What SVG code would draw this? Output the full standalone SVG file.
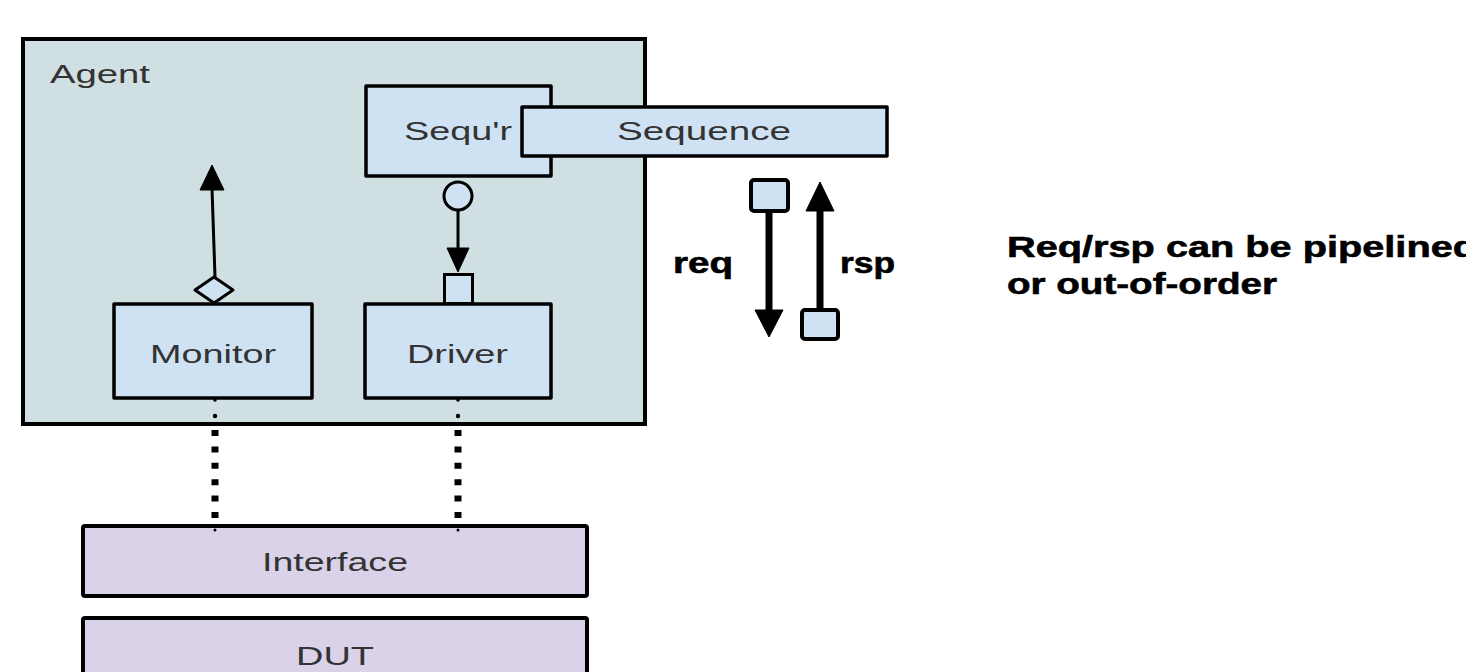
<svg xmlns="http://www.w3.org/2000/svg" width="1466" height="672" viewBox="0 0 1466 672">
<style>
.lbl{font-family:"Liberation Sans",Arial,sans-serif;font-size:25px;fill:#333333}
.bold{font-family:"Liberation Sans",Arial,sans-serif;font-size:30px;font-weight:bold;fill:#000000;stroke:#000;stroke-width:0.6}
.box{fill:#cfe2f3;stroke:#000;stroke-width:3.5;stroke-linejoin:round}
.ibox{fill:#d9d2e9;stroke:#000;stroke-width:4;stroke-linejoin:round}
.ln{stroke:#000;stroke-width:3;fill:none}
.thick{stroke:#000;stroke-width:7;fill:none}
.head{fill:#000;stroke:#000;stroke-width:1;stroke-linejoin:round}
.dash{stroke:#000;stroke-width:7;stroke-dasharray:6 10.4;fill:none}
.dot{fill:#000}
</style>
<rect width="1466" height="672" fill="#ffffff"/>
<g id="agent">
  <rect x="23" y="39" width="622" height="385" fill="#d0dfe2" stroke="#000" stroke-width="4"/>
  <text class="lbl" x="50" y="83" textLength="100" lengthAdjust="spacingAndGlyphs">Agent</text>
</g>
<g id="sequencer">
  <rect class="box" x="366" y="86" width="185" height="90"/>
  <text class="lbl" x="404" y="140" textLength="108" lengthAdjust="spacingAndGlyphs">Sequ'r</text>
</g>
<g id="sequence">
  <rect class="box" x="522" y="107" width="365" height="49" stroke-width="4"/>
  <text class="lbl" x="617" y="140" textLength="174" lengthAdjust="spacingAndGlyphs">Sequence</text>
</g>
<g id="monitor">
  <rect class="box" x="114" y="304" width="198" height="94"/>
  <text class="lbl" x="150" y="363" textLength="126" lengthAdjust="spacingAndGlyphs">Monitor</text>
</g>
<g id="driver">
  <rect class="box" x="365" y="304" width="186" height="94"/>
  <text class="lbl" x="407" y="363" textLength="101" lengthAdjust="spacingAndGlyphs">Driver</text>
</g>
<g id="interface">
  <rect class="ibox" x="83" y="526" width="504" height="70" rx="2"/>
  <text class="lbl" x="262" y="571" textLength="146" lengthAdjust="spacingAndGlyphs">Interface</text>
</g>
<g id="dut">
  <rect class="ibox" x="83" y="618" width="504" height="80" rx="2"/>
  <text class="lbl" x="296" y="665" textLength="78" lengthAdjust="spacingAndGlyphs">DUT</text>
</g>
<g id="connectors">
  <line class="ln" x1="215" y1="277" x2="212" y2="188"/>
  <polygon class="head" points="200,190 224,190 212,165"/>
  <polygon points="214,277 233,290 214,303 195,290" fill="#cfe2f3" stroke="#000" stroke-width="3" stroke-linejoin="round"/>
  <circle cx="458" cy="196" r="14" fill="#cfe2f3" stroke="#000" stroke-width="3"/>
  <line class="ln" x1="458" y1="210" x2="458" y2="250"/>
  <polygon class="head" points="447,248 469,248 458,272"/>
  <rect x="444.5" y="274.5" width="28" height="29" fill="#cfe2f3" stroke="#000" stroke-width="3"/>
  <line class="dash" x1="215" y1="430" x2="215" y2="520"/>
  <line class="dash" x1="458" y1="430" x2="458" y2="520"/>
  <circle class="dot" cx="215" cy="400" r="1.8"/>
  <circle class="dot" cx="215" cy="416" r="2.2"/>
  <circle class="dot" cx="215" cy="530" r="1.5"/>
  <circle class="dot" cx="458" cy="400" r="1.8"/>
  <circle class="dot" cx="458" cy="416" r="2.2"/>
  <circle class="dot" cx="458" cy="530" r="1.5"/>
  <line class="thick" x1="769" y1="211" x2="769" y2="312"/>
  <polygon class="head" points="755,310 783,310 769,337"/>
  <rect x="751" y="180" width="37" height="31" rx="3" fill="#cfe2f3" stroke="#000" stroke-width="4"/>
  <line class="thick" x1="820" y1="310" x2="820" y2="209"/>
  <polygon class="head" points="806,211 834,211 820,182"/>
  <rect x="802" y="310" width="36" height="29" rx="3" fill="#cfe2f3" stroke="#000" stroke-width="4"/>
</g>
<g id="labels">
  <text class="bold" x="673" y="273" textLength="60" lengthAdjust="spacingAndGlyphs">req</text>
  <text class="bold" x="840" y="273" textLength="55" lengthAdjust="spacingAndGlyphs">rsp</text>
  <text class="bold" x="1007" y="257" textLength="470" lengthAdjust="spacingAndGlyphs">Req/rsp can be pipelined</text>
  <text class="bold" x="1007" y="294" textLength="270" lengthAdjust="spacingAndGlyphs">or out-of-order</text>
</g>
</svg>
